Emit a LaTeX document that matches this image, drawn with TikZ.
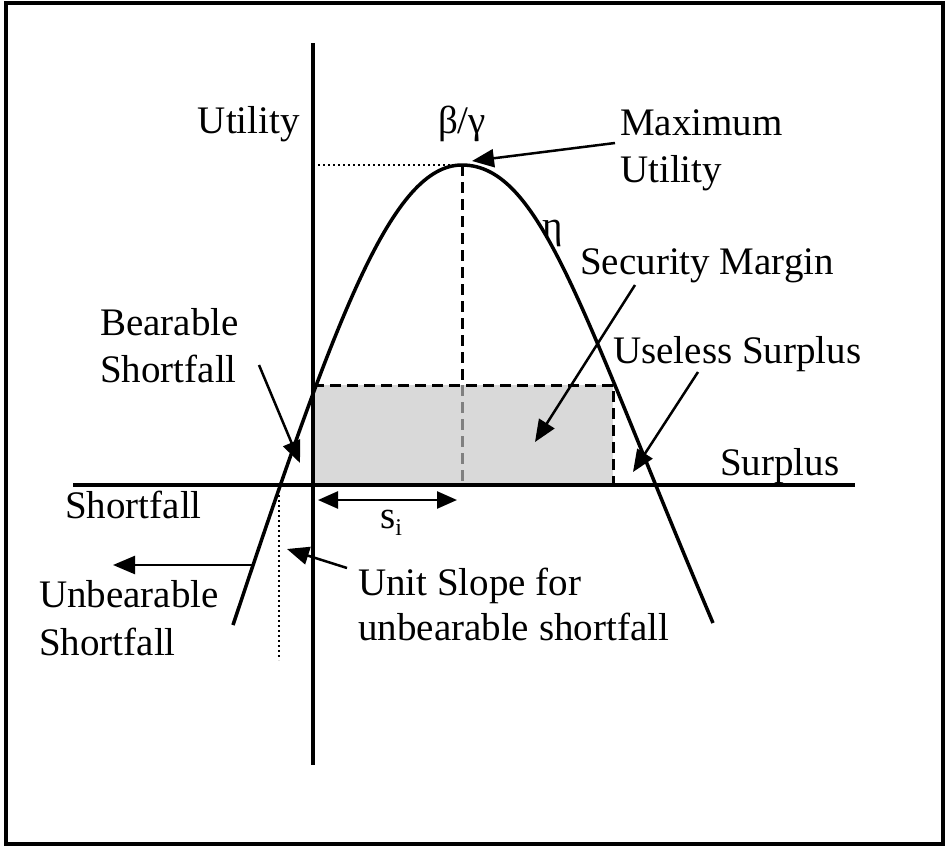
\documentclass[tikz,border=0pt]{standalone}
\usepackage{fontspec}
\setmainfont{Liberation Serif}
\usetikzlibrary{arrows.meta}
\begin{document}
\begin{tikzpicture}[x=1pt,y=-1pt,
  lbl/.style={inner sep=0pt, anchor=base west, font=\fontsize{39}{47}\selectfont},
  axisline/.style={line width=3.5pt},
  curveline/.style={line width=3.5pt, line join=round},
  arr/.style={line width=2.5pt, -{Triangle[length=22pt,width=18pt]}},
  dblarr/.style={line width=2.5pt, {Triangle[length=20pt,width=17pt]}-{Triangle[length=20pt,width=17pt]}},
  dashline/.style={line width=3pt, dash pattern=on 11pt off 6pt},
  dotline/.style={line width=2pt, dash pattern=on 2pt off 3pt},
]
\useasboundingbox (0,0) rectangle (946,846);
\fill[white] (0,0) rectangle (946,846);
\draw[line width=4pt] (5.5,3) rectangle (943,844);

% key coordinates
\coordinate (O) at (313,485);
\coordinate (peak) at (462,165);
\coordinate (rtl) at (313,385);
\coordinate (rtr) at (613,385);
\coordinate (rbr) at (613,485);
\coordinate (rtop) at (462,385);
\coordinate (pbase) at (462,485);

% security margin rectangle
\fill[gray!30] (rtl) rectangle (rbr);

% dashed vertical through peak
\draw[dashline] (peak) -- (rtop);
\draw[dashline, gray] (rtop) -- (pbase);
\draw[dashline] (rtl) -- (rtr) -- (rbr);
\draw[dashline] (O) -- (rbr);

% dotted lines
\draw[dotline] (313,165) -- (peak);
\draw[dotline] (279,485) -- (279,660);

% axes
\coordinate (yt) at (313,43);
\coordinate (yb) at (313,765);
\coordinate (xl) at (73,485);
\coordinate (xr) at (855,485);
\draw[axisline] (yt) -- (yb);
\draw[axisline] (xl) -- (xr);

% utility curve
\coordinate (cl) at (233,625);
\coordinate (cr) at (713,623);
\draw[curveline] (cl) .. controls (336,316) and (392,165) .. (peak)
  .. controls (542,165) and (583,317) .. (cr);

% labels
\node[lbl, anchor=base east] (utilY) at (300,133) {Utility};
\node[lbl, anchor=base] (betagamma) at (462,133) {β/γ};
\node[lbl] (maxA) at (620,135) {Maximum};
\node[lbl] (maxB) at (620,182) {Utility};
\node[lbl] (eta) at (542,238) {η};
\node[lbl] (secm) at (580,274) {Security Margin};
\node[lbl] (bearA) at (100,335) {Bearable};
\node[lbl] (bearB) at (100,382) {Shortfall};
\node[lbl] (useless) at (613,363) {Useless Surplus};
\node[lbl] (surplus) at (720,475) {Surplus};
\node[lbl] (shortf) at (65,518) {Shortfall};
\node[lbl] (si) at (380,528) {s\raisebox{-7pt}{\fontsize{24}{24}\selectfont i}};
\node[lbl] (unitA) at (358,595) {Unit Slope for};
\node[lbl] (unitB) at (358,640) {unbearable shortfall};
\node[lbl] (unbA) at (39,607) {Unbearable};
\node[lbl] (unbB) at (39,655) {Shortfall};

% arrows
\coordinate (mxs) at (615,143);
\coordinate (mxt) at (472,161);
\draw[arr] (mxs) -- (mxt);
\coordinate (sms) at (635,285);
\coordinate (smt) at (535,442);
\draw[arr] (sms) -- (smt);
\coordinate (uss) at (698,372);
\coordinate (ust) at (633,472);
\draw[arr] (uss) -- (ust);
\coordinate (bss) at (259,365);
\coordinate (bst) at (300,463);
\draw[arr] (bss) -- (bst);
\coordinate (ubs) at (252,565);
\coordinate (ubt) at (113,565);
\draw[arr] (ubs) -- (ubt);
\coordinate (uns) at (347,568);
\coordinate (unt) at (287,549);
\draw[arr] (uns) -- (unt);
\coordinate (sia) at (318,500);
\coordinate (sib) at (457,500);
\draw[dblarr] (sia) -- (sib);
\end{tikzpicture}
\end{document}
